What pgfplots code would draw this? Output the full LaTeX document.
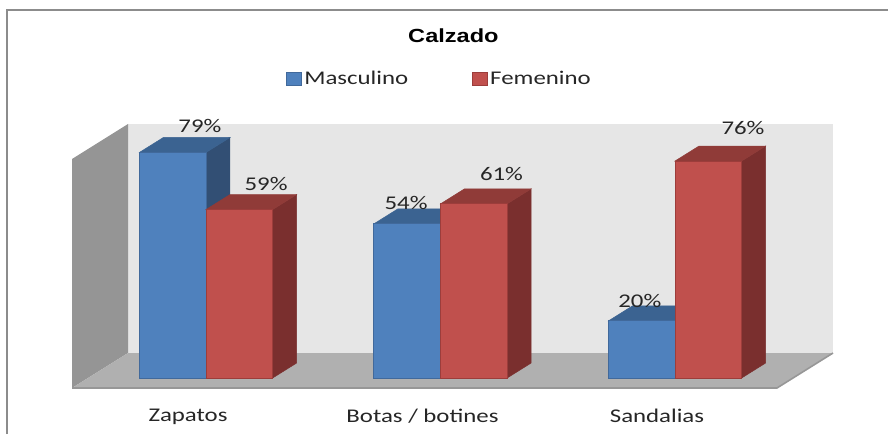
\documentclass[border=0pt]{standalone}
\usepackage{fontspec}
\usepackage{pgfplots}
\pgfplotsset{compat=1.18}
\setmainfont{Carlito}
\newfontfamily\lab[FakeStretch=1.28]{Carlito}
\newfontfamily\ttl[FakeStretch=1.24]{Liberation Sans}
\definecolor{bfront}{HTML}{4F81BD}
\definecolor{bedge}{HTML}{41699B}
\definecolor{btop}{HTML}{3B6391}
\definecolor{bside}{HTML}{324F74}
\definecolor{rfront}{HTML}{C0504D}
\definecolor{redge}{HTML}{9C3D3B}
\definecolor{rtop}{HTML}{903B38}
\definecolor{rside}{HTML}{7A2F2E}
\definecolor{wallback}{HTML}{E6E6E6}
\definecolor{wallside}{HTML}{959595}
\definecolor{floorc}{HTML}{B0B0B0}
\definecolor{frame}{HTML}{8C8C8C}
\begin{document}
\begin{tikzpicture}
\useasboundingbox (0,0) rectangle (888pt,434pt);
\begin{axis}[
  at={(0,0)}, anchor=south west,
  scale only axis, width=888pt, height=434pt,
  xmin=-0.8785, xmax=2.9083, ymin=-19.61, ymax=132.4,
  axis line style={draw=none}, tick style={draw=none},
  ytick=\empty, xtick={0,1,2},
  xticklabels={Zapatos,Botas / botines,Sandalias},
  xticklabel style={font=\lab\fontsize{19.4}{19.4}\selectfont, text=black!85, xshift=-18pt, yshift=28.5pt},
  clip=false,
  legend style={at={(axis cs:0.9958,104.8)}, anchor=center, draw=none, fill=none,
    font=\lab\fontsize{19.4}{19.4}\selectfont, text=black!85, inner sep=0pt,
    /tikz/every even column/.append style={column sep=62pt}},
  legend columns=2,
  title={}
]
\pgfplotsset{swatch/.style={legend image code/.code={\draw[##1, draw opacity=1, line width=1pt] (0pt,-6.5pt) rectangle (15pt,6.5pt);}}}
% walls and floor
\addplot[forget plot, draw=none, fill=wallback] coordinates {(-.3326,8.757)(2.6738,8.757)(2.6738,88.97)(-.3326,88.97)} --cycle;
\addplot[forget plot, draw=none, fill=wallside] coordinates {(-.5714,-3.5)(-.3326,8.757)(-.3326,88.97)(-.5714,76.71)} --cycle;
\addplot[forget plot, draw=none, fill=floorc] coordinates {(-.5714,-3.5)(-.3326,8.757)(2.6738,8.757)(2.4350,-3.5)} --cycle;
\addplot[forget plot, draw=frame!90, line width=1.6pt] coordinates {(-.5714,-3.5)(2.4350,-3.5)(2.6738,8.757)};
% blue sides and tops
\addplot[forget plot, draw=bside, fill=bside, line width=.5pt] coordinates {(0,0)(.1023,5.25)(.1023,84.25)(0,79)} --cycle;
\addplot[forget plot, draw=btop, fill=btop, line width=.5pt] coordinates {(-.284,79)(0,79)(.1023,84.25)(-.1817,84.25)} --cycle;
\addplot[forget plot, draw=bside, fill=bside, line width=.5pt] coordinates {(1,0)(1.1023,5.25)(1.1023,59.25)(1,54)} --cycle;
\addplot[forget plot, draw=btop, fill=btop, line width=.5pt] coordinates {(.716,54)(1,54)(1.1023,59.25)(.8183,59.25)} --cycle;
\addplot[forget plot, draw=bside, fill=bside, line width=.5pt] coordinates {(2,0)(2.1023,5.25)(2.1023,25.25)(2,20)} --cycle;
\addplot[forget plot, draw=btop, fill=btop, line width=.5pt] coordinates {(1.716,20)(2,20)(2.1023,25.25)(1.8183,25.25)} --cycle;
% blue fronts
\addplot[ybar, bar width=0.284, bar shift=-0.142, draw=bedge, fill=bfront, line width=1pt, swatch]
  coordinates {(0,79)(1,54)(2,20)};
\addlegendentry{Masculino}
% red sides and tops
\addplot[forget plot, draw=rside, fill=rside, line width=.5pt] coordinates {(.284,0)(.3863,5.25)(.3863,64.25)(.284,59)} --cycle;
\addplot[forget plot, draw=rtop, fill=rtop, line width=.5pt] coordinates {(0,59)(.284,59)(.3863,64.25)(.1023,64.25)} --cycle;
\addplot[forget plot, draw=rside, fill=rside, line width=.5pt] coordinates {(1.284,0)(1.3863,5.25)(1.3863,66.25)(1.284,61)} --cycle;
\addplot[forget plot, draw=rtop, fill=rtop, line width=.5pt] coordinates {(1,61)(1.284,61)(1.3863,66.25)(1.1023,66.25)} --cycle;
\addplot[forget plot, draw=rside, fill=rside, line width=.5pt] coordinates {(2.284,0)(2.3863,5.25)(2.3863,81.25)(2.284,76)} --cycle;
\addplot[forget plot, draw=rtop, fill=rtop, line width=.5pt] coordinates {(2,76)(2.284,76)(2.3863,81.25)(2.1023,81.25)} --cycle;
% red fronts
\addplot[ybar, bar width=0.284, bar shift=0.142, draw=redge, fill=rfront, line width=1pt, swatch]
  coordinates {(0,59)(1,61)(2,76)};
\addlegendentry{Femenino}
% data labels
\tikzset{dl/.style={font=\lab\fontsize{19.4}{19.4}\selectfont, text=black!85, inner sep=0pt}}
\node[dl] at (axis cs:-0.026,88.2) {79\%};
\node[dl] at (axis cs:0.256,68.0) {59\%};
\node[dl] at (axis cs:0.853,61.3) {54\%};
\node[dl] at (axis cs:1.26,71.5) {61\%};
\node[dl] at (axis cs:1.85,26.9) {20\%};
\node[dl] at (axis cs:2.29,87.7) {76\%};
\node[font=\ttl\bfseries\fontsize{19}{19}\selectfont, text=black, inner sep=0pt] at (axis cs:1.055,119.8) {Calzado};
\end{axis}
\draw[frame, line width=2pt] (7pt,0pt) -- (7pt,424pt) -- (888pt,424pt);
\end{tikzpicture}
\end{document}
